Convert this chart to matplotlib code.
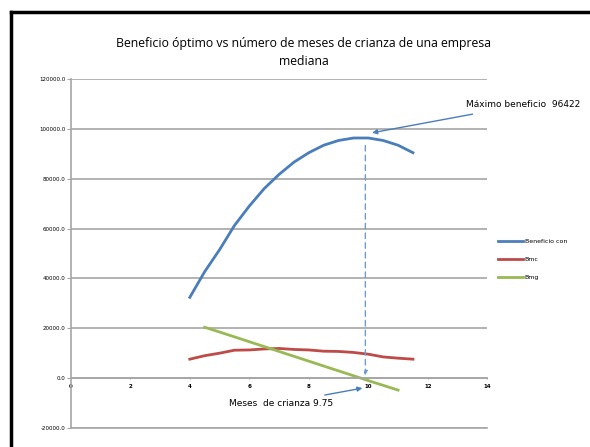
import matplotlib.pyplot as plt
from matplotlib.lines import Line2D

# meses de crianza
meses = [4, 4.5, 5, 5.5, 6, 6.5, 7, 7.5, 8, 8.5, 9, 9.5, 10, 10.5, 11, 11.5]
beneficio = [32400, 42700, 51500, 61200, 69000, 76000, 81700, 86600,
             90400, 93400, 95300, 96300, 96300, 95300, 93400, 90400]
bmc = [7600, 9000, 10000, 11200, 11300, 11700, 11900, 11500,
       11300, 10800, 10700, 10300, 9600, 8500, 8000, 7600]
meses_bmg = [4.5, 5, 6, 7, 8, 9, 9.75, 10, 11]
bmg = [20400, 18500, 14600, 10700, 6800, 2900, 0, -1000, -4800]

labels = ["Beneficio con", "Bmc", "Bmg"]
max_benef = 96422
mes_opt = 9.75

c_blue = "#4a7ebb"
c_red = "#be4b48"
c_green = "#98b954"
grid_c = "#a6a6a6"

fig = plt.figure(figsize=(5.9, 4.47), dpi=100)
ax = fig.add_axes([0.120, 0.0425, 0.706, 0.781])

ax.plot(meses, beneficio, color=c_blue, lw=2, label=labels[0])
ax.plot(meses, bmc, color=c_red, lw=2, label=labels[1])
ax.plot(meses_bmg, bmg, color=c_green, lw=2, label=labels[2])

for s in ["top", "right"]:
    ax.spines[s].set_visible(False)
ax.spines["bottom"].set_position(("data", 0))
ax.spines["bottom"].set_color(grid_c)
ax.spines["left"].set_color(grid_c)
ax.spines["bottom"].set_linewidth(1.2)
ax.spines["left"].set_linewidth(1.2)

ax.set_xlim(0, 14)
ax.set_ylim(-20000, 120000)
ax.set_yticks(range(-20000, 120001, 20000))
ax.set_yticklabels([f"{v:.1f}" for v in range(-20000, 120001, 20000)], fontsize=4)
ax.set_xticks(range(0, 15, 2))
ax.set_xticklabels([str(v) for v in range(0, 15, 2)], fontsize=4, fontweight="bold")
ax.yaxis.grid(True, color=grid_c, lw=1.2)
ax.set_axisbelow(True)
ax.tick_params(axis="y", length=3, color=grid_c, pad=1)
ax.tick_params(axis="x", length=2, color=grid_c, pad=3, direction="inout")

# linea de -20000 como borde inferior
ax.axhline(-20000, color=grid_c, lw=1.2, clip_on=False)

# linea vertical punteada hacia el optimo
ax.annotate("", xy=(9.9, 0), xytext=(9.9, 94400),
            arrowprops=dict(arrowstyle="-|>", color="#6f9bd1", lw=1,
                            linestyle=(0, (4, 3)), mutation_scale=6))

ax.annotate(f"Máximo beneficio  {max_benef}", xy=(10.13, 98400),
            xytext=(13.27, 109600), fontsize=6.5, va="center", ha="left",
            annotation_clip=False,
            arrowprops=dict(arrowstyle="-|>", color=c_blue, lw=1,
                            mutation_scale=7, shrinkA=8, shrinkB=0))

ax.annotate(f"Meses  de crianza {mes_opt}", xy=(9.8, -4000),
            xytext=(8.82, -10000), fontsize=6.5, va="center", ha="right",
            annotation_clip=False,
            arrowprops=dict(arrowstyle="-|>", color=c_blue, lw=1,
                            mutation_scale=7, shrinkA=3, shrinkB=0))

fig.text(0.515, 0.882, "Beneficio óptimo vs número de meses de crianza de una empresa\nmediana",
         ha="center", va="center", fontsize=8.8, family="Open Sans", linespacing=1.45)

ax.legend(loc="center left", bbox_to_anchor=(0.835, 0.42), bbox_transform=fig.transFigure,
          frameon=False, fontsize=4.5, handlelength=4, labelspacing=2.0, handletextpad=0.2)

# marco del grafico
fig.add_artist(Line2D([11 / 590, 11 / 590], [0, 1 - 12 / 447], color="black", lw=2.5))
fig.add_artist(Line2D([11 / 590, 1], [1 - 12 / 447, 1 - 12 / 447], color="black", lw=2.5))

fig.savefig("out.png", dpi=100)
